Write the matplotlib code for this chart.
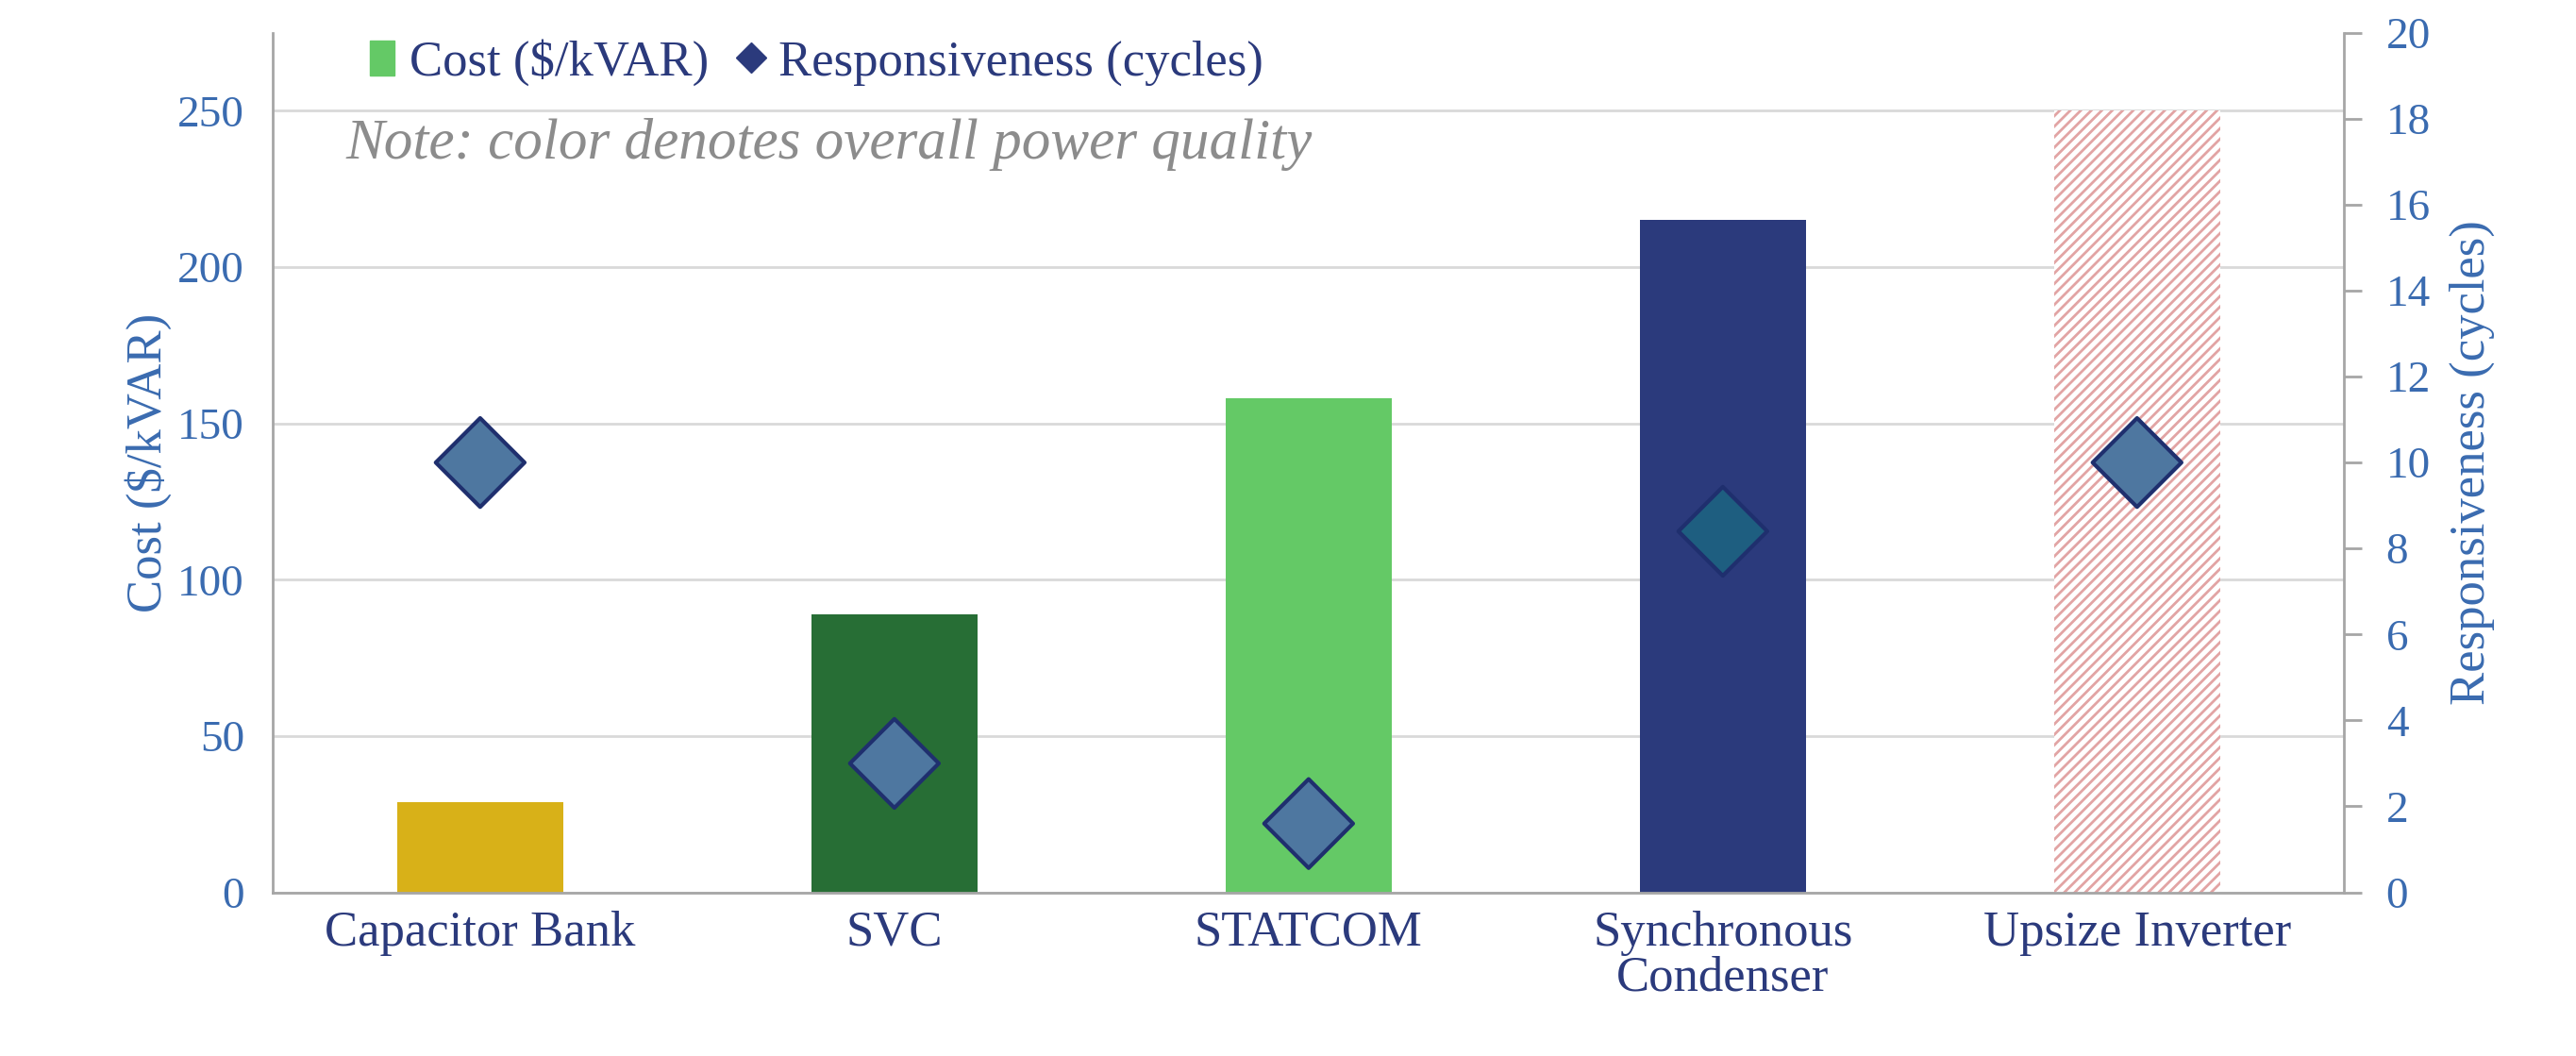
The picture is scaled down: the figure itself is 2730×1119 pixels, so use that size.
import matplotlib.pyplot as plt
from matplotlib.lines import Line2D
from matplotlib.patches import Patch

categories = ["Capacitor Bank", "SVC", "STATCOM", "Synchronous\nCondenser", "Upsize Inverter"]
cost = [29, 89, 158, 215, 250]
responsiveness = [10, 3, 1.6, 8.4, 10]
bar_colors = ["#D8B118", "#276E35", "#64C966", "#2B3A7C", "none"]
marker_faces = ["#4E77A0", "#4E77A0", "#4E77A0", "#1E5E80", "#4E77A0"]

plt.rcParams["font.family"] = ["Liberation Serif", "DejaVu Serif"]
plt.rcParams["font.size"] = 28
plt.rcParams["hatch.linewidth"] = 2
blue = "#3A6BB0"

fig = plt.figure(figsize=(27.3, 11.19), dpi=100)
ax = fig.add_axes([0.106, 0.155, 0.804, 0.814])
x = range(len(categories))
for i, (c, col) in enumerate(zip(cost, bar_colors)):
    if col == "none":
        ax.bar(i, c, 0.4, facecolor="white", edgecolor="#E2A4A4", hatch="///", linewidth=0)
    else:
        ax.bar(i, c, 0.4, color=col)
ax.set_ylim(0, 275)
ax.set_xlim(-0.5, 4.5)
ax.set_yticks(range(0, 251, 50))
ax.yaxis.grid(True, color="#D9D9D9", linewidth=2)
ax.set_axisbelow(True)
ax.set_xticks(list(x))
ax.set_xticklabels(categories, color="#2B3A7C", fontsize=38, linespacing=1.0)
ax.tick_params(axis="y", colors=blue, length=0, labelsize=34, pad=22)
ax.tick_params(axis="x", length=0, pad=14)
ax.set_ylabel("Cost ($/kVAR)", color=blue, fontsize=38)
for s in ["top", "right"]:
    ax.spines[s].set_visible(False)
ax.spines["left"].set_color("#A6A6A6")
ax.spines["bottom"].set_color("#A6A6A6")
ax.spines["left"].set_linewidth(2)
ax.spines["bottom"].set_linewidth(2)

ax2 = ax.twinx()
ax2.scatter(list(x), responsiveness, marker="D", s=2300, c=marker_faces,
            edgecolors="#1F2F6E", linewidths=3, zorder=5)
ax2.set_ylim(0, 20)
ax2.set_yticks(range(0, 21, 2))
ax2.tick_params(axis="y", colors=blue, labelsize=34, length=14, width=2, pad=18)
ax2.tick_params(axis="y", color="#A6A6A6")
ax2.set_ylabel("Responsiveness (cycles)", color=blue, fontsize=38, labelpad=14)
for s in ["top", "left", "bottom"]:
    ax2.spines[s].set_visible(False)
ax2.spines["right"].set_color("#A6A6A6")
ax2.spines["right"].set_linewidth(2)

ax.text(0.035, 0.87, "Note: color denotes overall power quality", transform=ax.transAxes,
        fontsize=44, style="italic", color="#8C8C8C", va="center")
handles = [Patch(color="#64C966", label="Cost ($/kVAR)"),
           Line2D([], [], marker="D", color="#2B3A7C", linestyle="none", markersize=16,
                  label="Responsiveness (cycles)")]
leg = ax.legend(handles=handles, loc="upper left", bbox_to_anchor=(0.025, 1.045), ncol=2,
                frameon=False, fontsize=38, handlelength=0.5, handletextpad=0.3, columnspacing=0.6)
for t in leg.get_texts():
    t.set_color("#2B3A7C")

fig.savefig("out.png", dpi=100)
